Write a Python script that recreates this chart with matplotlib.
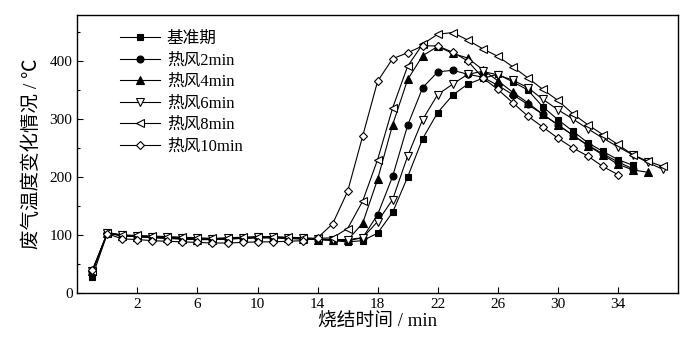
import numpy as np
import matplotlib
matplotlib.use("Agg")
from matplotlib import pyplot as plt
from matplotlib.ticker import MultipleLocator

plt.rcParams['font.family'] = ['Liberation Serif', 'Noto Sans CJK SC']

##########
# data: one point per minute, starting at -1 min
labels = ['基准期', '热风2min', '热风4min', '热风6min', '热风8min', '热风10min']

base = [28, 103, 98, 97, 95, 94, 93, 92, 92, 93, 95, 96, 96, 95, 94, 93,
        90, 88, 90, 103, 139, 200, 266, 311, 341, 360, 370, 377, 364, 350,
        321, 299, 279, 259, 244, 230, 220]
hot2 = [36, 104, 99, 97, 96, 95, 94, 93, 92, 93, 94, 95, 95, 94, 93, 92,
        91, 90, 95, 135, 201, 289, 354, 381, 384, 377, 372, 358, 342, 325,
        308, 290, 272, 255, 240, 226, 214]
hot4 = [37, 104, 98, 97, 96, 94, 93, 92, 92, 93, 94, 95, 95, 94, 93, 92,
        91, 91, 120, 196, 290, 368, 409, 425, 413, 405, 385, 366, 346, 328,
        308, 290, 272, 254, 238, 222, 212, 208]
hot6 = [38, 103, 99, 98, 97, 96, 95, 94, 93, 94, 95, 96, 96, 95, 94, 93,
        92, 92, 95, 123, 161, 236, 299, 342, 360, 377, 382, 376, 367, 354,
        334, 316, 300, 283, 267, 252, 238, 225, 213]
hot8 = [38, 104, 100, 99, 98, 97, 96, 95, 94, 95, 96, 97, 97, 96, 95, 94,
        95, 111, 158, 230, 319, 391, 429, 446, 449, 436, 421, 408, 390, 371,
        351, 332, 309, 290, 273, 256, 238, 227, 218]
hot10 = [40, 102, 93, 92, 90, 89, 88, 87, 86, 86, 87, 88, 88, 89, 90, 95,
         119, 175, 270, 365, 404, 414, 426, 426, 415, 400, 371, 351, 328, 305,
         286, 267, 250, 236, 218, 204]

series = [base, hot2, hot4, hot6, hot8, hot10]
markers = ['s', 'o', '^', 'v', '<', 'D']
fills = ['k', 'k', 'k', 'w', 'w', 'w']
sizes = [4.5, 5, 5.5, 5.5, 5.5, 4.5]

fig = plt.figure(figsize=(6.91, 3.55), dpi=100)
ax = fig.add_axes([0.112, 0.175, 0.869, 0.784])

for y, lab, m, fc, ms in zip(series, labels, markers, fills, sizes):
    x = np.arange(len(y)) - 1
    ax.plot(x, y, color='k', lw=0.8, marker=m, ms=ms, mfc=fc, mec='k',
            mew=0.8, label=lab)

ax.set_xlim(-2, 38)
ax.set_ylim(0, 480)
ax.set_xticks(np.arange(2, 35, 4))
ax.yaxis.set_major_locator(MultipleLocator(100))
ax.yaxis.set_minor_locator(MultipleLocator(50))
ax.tick_params(direction='in', labelsize=11, length=4, width=0.8)
ax.tick_params(which='minor', direction='in', length=2.5, width=0.8)
for s in ax.spines.values():
    s.set_linewidth(1.0)

ax.set_xlabel('烧结时间 / min', fontsize=13.5, labelpad=2)
ax.set_ylabel('废气温度变化情况 / ℃', fontsize=14, labelpad=6)

ax.legend(loc='upper left', bbox_to_anchor=(0.06, 0.965), frameon=False,
          fontsize=12, handlelength=2.4, handletextpad=0.4,
          labelspacing=0.33, borderaxespad=0)

fig.savefig('out.png', dpi=100)
